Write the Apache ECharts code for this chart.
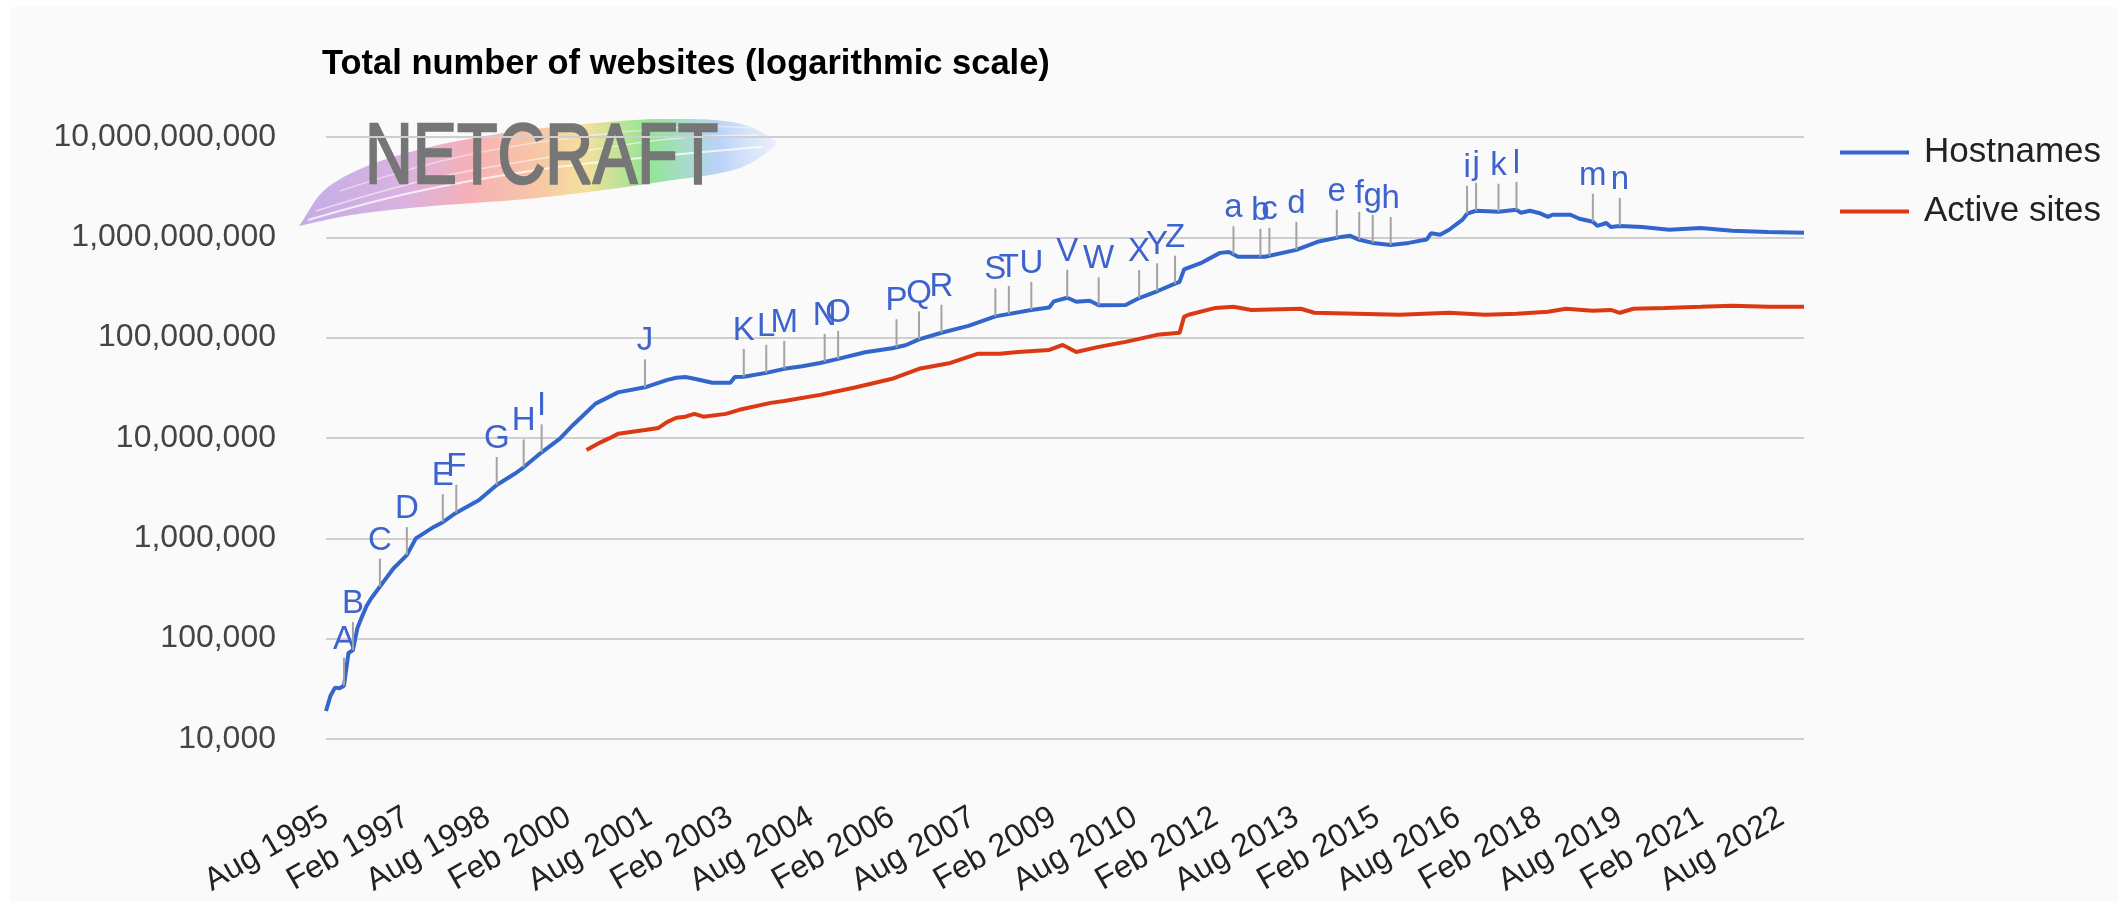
<!DOCTYPE html>
<html>
<head>
<meta charset="utf-8">
<title>Total number of websites</title>
<script src="https://cdn.jsdelivr.net/npm/echarts@6/dist/echarts.min.js"></script>
<style>
  html, body { margin: 0; padding: 0; background: #ffffff; }
  #chart { position: absolute; left: 10px; top: 7px; width: 2108px; height: 894px; background: #fafafa; }
</style>
</head>
<body>
<div id="chart"></div>
<script>
// Hostnames (blue)
var hostDates = ['1995-08', '1995-09', '1995-10', '1995-11', '1995-12', '1996-01', '1996-02', '1996-03',
  '1996-04', '1996-05', '1996-06', '1996-08', '1996-11', '1997-02', '1997-04', '1997-08', '1997-10',
  '1998-01', '1998-06', '1998-10', '1999-02', '1999-04', '1999-08', '1999-12', '2000-03', '2000-08',
  '2001-01', '2001-07', '2001-12', '2002-02', '2002-04', '2002-06', '2002-10', '2003-02', '2003-03',
  '2003-05', '2003-10', '2004-02', '2004-06', '2004-10', '2005-02', '2005-08', '2006-02', '2006-05',
  '2006-08', '2007-01', '2007-07', '2008-01', '2008-09', '2009-01', '2009-02', '2009-05', '2009-07',
  '2009-10', '2009-12', '2010-06', '2010-09', '2011-01', '2011-05', '2011-06', '2011-07', '2011-11',
  '2012-03', '2012-05', '2012-07', '2013-01', '2013-08', '2014-01', '2014-06', '2014-08', '2014-10',
  '2015-01', '2015-05', '2015-09', '2016-01', '2016-02', '2016-04', '2016-06', '2016-09', '2016-10',
  '2016-12', '2017-05', '2017-09', '2017-10', '2017-12', '2018-02', '2018-04', '2018-05', '2018-09',
  '2018-11', '2019-02', '2019-03', '2019-05', '2019-06', '2019-08', '2020-01', '2020-07', '2021-02',
  '2021-09', '2022-05', '2023-01'];
var hostValues = [19000, 27000, 32500, 32000, 34000, 72000, 77000, 128000,
  165000, 210000, 250000, 330000, 500000, 680000, 1000000, 1300000, 1450000,
  1800000, 2400000, 3400000, 4400000, 5100000, 7200000, 9800000, 13500000, 22000000,
  28500000, 32000000, 38000000, 39800000, 40500000, 38900000, 35500000, 35500000, 40500000,
  40700000, 44600000, 48900000, 52000000, 56000000, 61500000, 71500000, 78500000, 84000000,
  96000000, 112000000, 131000000, 163000000, 189000000, 200000000, 230000000, 250000000, 228000000,
  233000000, 210000000, 212000000, 248000000, 290000000, 345000000, 360000000, 480000000, 560000000,
  700000000, 715000000, 640000000, 640000000, 750000000, 910000000, 1010000000, 1035000000, 945000000,
  880000000, 840000000, 880000000, 950000000, 1100000000, 1060000000, 1190000000, 1500000000, 1720000000,
  1840000000, 1800000000, 1880000000, 1760000000, 1840000000, 1750000000, 1600000000, 1680000000, 1680000000,
  1530000000, 1430000000, 1300000000, 1390000000, 1270000000, 1300000000, 1270000000, 1190000000, 1240000000,
  1160000000, 1130000000, 1110000000];

// Active sites (red)
var activeDates = ['2000-06', '2000-09', '2000-11', '2001-01', '2001-07', '2001-10', '2001-12', '2002-02',
  '2002-04', '2002-06', '2002-08', '2003-01', '2003-04', '2003-11', '2004-02', '2004-10', '2005-06',
  '2006-02', '2006-08', '2007-03', '2007-09', '2008-02', '2008-06', '2009-01', '2009-04', '2009-07',
  '2009-12', '2010-06', '2011-01', '2011-06', '2011-07', '2011-08', '2012-02', '2012-06', '2012-10',
  '2013-09', '2013-12', '2015-07', '2016-06', '2017-02', '2017-09', '2018-04', '2018-08', '2019-02',
  '2019-06', '2019-08', '2019-11', '2020-06', '2021-02', '2021-09', '2022-05', '2023-01'];
var activeValues = [7600000, 9000000, 9900000, 11000000, 12000000, 12600000, 14500000, 15900000,
  16300000, 17400000, 16300000, 17400000, 19100000, 22400000, 23400000, 26900000, 32000000,
  38900000, 48900000, 56000000, 69000000, 69000000, 72000000, 75500000, 84700000, 72000000,
  81000000, 90800000, 106700000, 111700000, 161000000, 169000000, 198000000, 203000000, 189000000,
  194000000, 177000000, 169000000, 177000000, 169000000, 173000000, 181000000, 194000000, 185000000,
  189000000, 177000000, 194000000, 198000000, 203000000, 208000000, 203000000, 203000000];

// annotations on the hostnames line
var noteLetters = ['A', 'B', 'C', 'D', 'E', 'F', 'G', 'H', 'I', 'J', 'K', 'L', 'M', 'N', 'O', 'P', 'Q', 'R',
  'S', 'T', 'U', 'V', 'W', 'X', 'Y', 'Z', 'a', 'b', 'c', 'd', 'e', 'f', 'g', 'h', 'i', 'j', 'k', 'l', 'm', 'n'];
var noteDates = ['1995-12', '1996-02', '1996-08', '1997-02', '1997-10', '1998-01', '1998-10', '1999-04',
  '1999-08', '2001-07', '2003-05', '2003-10', '2004-02', '2004-11', '2005-02', '2006-03', '2006-08',
  '2007-01', '2008-01', '2008-04', '2008-09', '2009-05', '2009-12', '2010-09', '2011-01', '2011-05',
  '2012-06', '2012-12', '2013-02', '2013-08', '2014-05', '2014-10', '2015-01', '2015-05', '2016-10',
  '2016-12', '2017-05', '2017-09', '2019-02', '2019-08'];

var seriesNames = ['Hostnames', 'Active sites'];
var monthNames = ['Jan', 'Feb', 'Mar', 'Apr', 'May', 'Jun', 'Jul', 'Aug', 'Sep', 'Oct', 'Nov', 'Dec'];
var lastMonth = '2023-01';

var FONT = '"Liberation Sans", Arial, sans-serif';

// months counted from Aug 1995
function monthIndex(s) {
  var p = s.split('-');
  return (+p[0] - 1995) * 12 + (+p[1] - 8);
}
function monthLabel(m) {
  var k = Math.round(m) + 7;
  return monthNames[k % 12] + ' ' + (1995 + Math.floor(k / 12));
}
function pairs(dates, values) {
  return dates.map(function (d, i) { return [monthIndex(d), values[i]]; });
}
// value of the hostnames line at a month (log interpolation)
function hostAt(m) {
  for (var i = 1; i < hostDates.length; i++) {
    var m0 = monthIndex(hostDates[i - 1]), m1 = monthIndex(hostDates[i]);
    if (m <= m1) {
      var t = (m - m0) / (m1 - m0);
      var l0 = Math.log10(hostValues[i - 1]), l1 = Math.log10(hostValues[i]);
      return Math.pow(10, l0 + (l1 - l0) * t);
    }
  }
  return hostValues[hostValues.length - 1];
}

var hostData = pairs(hostDates, hostValues);
var activeData = pairs(activeDates, activeValues);
var noteData = noteDates.map(function (d) {
  var m = monthIndex(d);
  return [m, hostAt(m)];
});

var chart = echarts.init(document.getElementById('chart'));

var option = {
  animation: false,
  backgroundColor: '#fafafa',
  title: {
    text: 'Total number of websites (logarithmic scale)',
    left: 312,
    top: 40,
    padding: 0,
    textStyle: { fontFamily: FONT, fontSize: 34.5, fontWeight: 'bold', color: '#000' }
  },
  legend: {
    data: seriesNames,
    orient: 'vertical',
    left: 1830,
    top: 128,
    padding: 0,
    itemGap: 24,
    icon: 'rect',
    itemWidth: 69,
    itemHeight: 4,
    textStyle: { fontFamily: FONT, fontSize: 35, color: '#222', padding: [0, 0, 0, 10] }
  },
  grid: { left: 316, right: 314, top: 130, bottom: 162 },
  xAxis: {
    type: 'value',
    min: 0,
    max: monthIndex(lastMonth),
    interval: 18,
    axisLine: { show: false },
    axisTick: { show: false },
    splitLine: { show: false },
    axisLabel: {
      rotate: 30,
      margin: 76,
      showMaxLabel: false,
      fontFamily: FONT,
      fontSize: 32,
      color: '#222',
      formatter: monthLabel
    }
  },
  yAxis: {
    type: 'log',
    logBase: 10,
    min: 10000,
    max: 10000000000,
    axisLine: { show: false },
    axisTick: { show: false },
    splitLine: { lineStyle: { color: '#cfcfcf', width: 2 } },
    axisLabel: {
      margin: 50,
      fontFamily: FONT,
      fontSize: 32,
      color: '#444',
      formatter: function (v) { return Math.round(v).toLocaleString('en-US'); }
    }
  },
  graphic: [
    {
      // rainbow brush behind the logo text
      type: 'polygon',
      z: -10,
      shape: {
        smooth: 0.35,
        points: [[289, 219], [318, 180], [383, 150], [481, 128], [586, 116], [656, 112], [727, 116], [766, 134],
          [762, 142], [727, 162], [656, 174], [586, 184], [516, 192], [411, 200], [341, 208], [289, 219]]
      },
      style: {
        fill: new echarts.graphic.LinearGradient(0, 0, 1, 0, [
          { offset: 0, color: 'rgba(186,160,226,0.85)' },
          { offset: 0.22, color: 'rgba(212,165,220,0.85)' },
          { offset: 0.36, color: 'rgba(246,164,170,0.85)' },
          { offset: 0.5, color: 'rgba(246,190,150,0.85)' },
          { offset: 0.6, color: 'rgba(244,220,140,0.85)' },
          { offset: 0.73, color: 'rgba(128,226,128,0.85)' },
          { offset: 0.88, color: 'rgba(170,200,248,0.8)' },
          { offset: 1, color: 'rgba(205,220,250,0.35)' }
        ])
      }
    },
    {
      type: 'polyline',
      z: -9,
      shape: { smooth: 0.4, points: [[298, 213], [400, 186], [520, 164], [640, 150], [752, 140]] },
      style: { stroke: 'rgba(255,255,255,0.75)', lineWidth: 2, fill: null }
    },
    {
      type: 'polyline',
      z: -9,
      shape: { smooth: 0.4, points: [[306, 204], [420, 172], [540, 150], [660, 132], [748, 128]] },
      style: { stroke: 'rgba(255,255,255,0.55)', lineWidth: 1.5, fill: null }
    },
    {
      type: 'polyline',
      z: -9,
      shape: { smooth: 0.4, points: [[330, 184], [440, 152], [560, 131], [680, 120], [740, 121]] },
      style: { stroke: 'rgba(255,255,255,0.45)', lineWidth: 1.5, fill: null }
    },
    {
      type: 'text',
      z: -8,
      x: 355,
      y: 152,
      scaleX: 0.77,
      style: {
        text: 'NETCRAFT',
        font: '86px ' + FONT,
        fill: '#767676',
        stroke: '#767676',
        lineWidth: 2.5,
        align: 'left',
        verticalAlign: 'middle'
      }
    }
  ],
  series: [
    {
      name: seriesNames[0],
      type: 'line',
      data: hostData,
      showSymbol: false,
      color: '#3366cc',
      lineStyle: { width: 4 },
      z: 3
    },
    {
      name: seriesNames[1],
      type: 'line',
      data: activeData,
      showSymbol: false,
      color: '#dc3912',
      lineStyle: { width: 4 },
      z: 2
    },
    {
      name: 'notes',
      type: 'custom',
      data: noteData,
      encode: { x: 0, y: 1 },
      clip: false,
      z: 5,
      renderItem: function (params, api) {
        var p = api.coord([api.value(0), api.value(1)]);
        return {
          type: 'group',
          children: [
            {
              type: 'line',
              shape: { x1: p[0], y1: p[1], x2: p[0], y2: p[1] - 28 },
              style: { stroke: '#a3a3a3', lineWidth: 2 }
            },
            {
              type: 'text',
              x: p[0],
              y: p[1] - 46,
              style: {
                text: noteLetters[params.dataIndex],
                font: '33px ' + FONT,
                fill: '#3d63cc',
                align: 'center',
                verticalAlign: 'middle'
              }
            }
          ]
        };
      }
    }
  ]
};

chart.setOption(option);
</script>
</body>
</html>
